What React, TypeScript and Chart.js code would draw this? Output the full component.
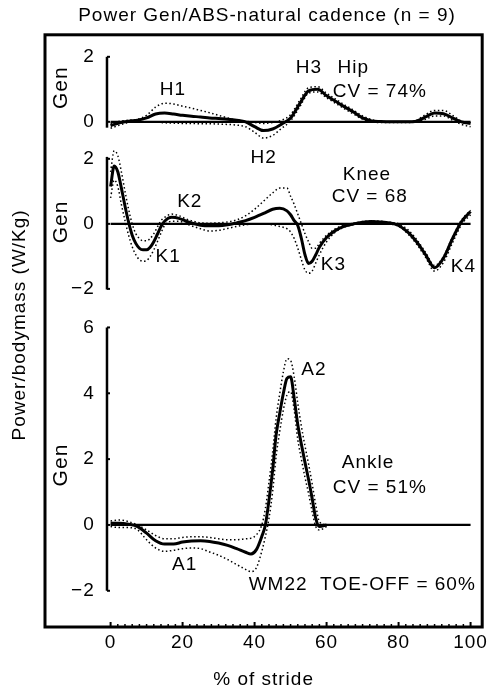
import { useEffect, useRef } from 'react';
import { Chart, registerables } from 'chart.js';

Chart.register(...registerables);

const FONT_FAMILY = '"Liberation Sans", Arial, Helvetica, sans-serif';

// ---- Hip power (W/kg) ----
const hipStride = [0, 2.5, 5, 7.5, 10, 12.5, 15, 17.5, 20, 22.5, 25, 27.5, 30, 32.5, 35, 37.5, 40, 42.5, 45, 47.5, 50, 52.5, 55, 57.5, 60, 62.5, 65, 67.5, 70, 72.5, 75, 77.5, 80, 82.5, 85, 87.5, 90, 92.5, 95, 97.5, 100];
const hipMean = [-0.12, -0.03, 0.02, 0.05, 0.12, 0.24, 0.27, 0.24, 0.2, 0.17, 0.15, 0.12, 0.1, 0.08, 0.05, 0.0, -0.15, -0.27, -0.22, -0.07, 0.12, 0.55, 0.95, 1.0, 0.8, 0.63, 0.46, 0.3, 0.12, 0.03, 0.01, 0.0, 0.0, 0.0, 0.02, 0.15, 0.27, 0.25, 0.12, 0.0, -0.05];
const hipUpper = [-0.05, 0.02, 0.05, 0.08, 0.2, 0.45, 0.57, 0.55, 0.48, 0.42, 0.35, 0.28, 0.2, 0.12, 0.05, 0.02, -0.02, -0.05, -0.02, 0.05, 0.22, 0.65, 1.05, 1.08, 0.88, 0.7, 0.52, 0.36, 0.18, 0.07, 0.02, 0.0, 0.0, 0.0, 0.05, 0.22, 0.35, 0.35, 0.2, 0.02, -0.05];
const hipLower = [-0.2, -0.1, -0.02, 0.0, 0.0, 0.0, -0.03, -0.04, -0.05, -0.05, -0.06, -0.06, -0.07, -0.08, -0.1, -0.15, -0.32, -0.5, -0.42, -0.2, 0.03, 0.45, 0.88, 0.92, 0.74, 0.57, 0.4, 0.24, 0.08, 0.0, -0.02, -0.02, -0.02, -0.02, 0.0, 0.08, 0.18, 0.18, 0.05, -0.08, -0.15];

// ---- Knee power (W/kg) ----
const kneeStride = [0, 1, 2, 3, 4, 5, 6, 7, 8, 9, 10, 11, 12, 13, 14, 15, 17, 19, 21, 23, 25, 27.5, 30, 32.5, 35, 37.5, 40, 42.5, 45, 47, 49, 50, 51, 52, 53, 54, 55, 56, 57, 58, 60, 62.5, 65, 67.5, 70, 72.5, 75, 77.5, 80, 82.5, 85, 87.5, 90, 92.5, 95, 97.5, 100];
const kneeMean = [1.15, 1.78, 1.6, 1.1, 0.55, 0.05, -0.35, -0.6, -0.75, -0.8, -0.8, -0.72, -0.55, -0.32, -0.08, 0.08, 0.2, 0.17, 0.08, 0.01, -0.04, -0.06, -0.06, -0.03, 0.03, 0.1, 0.2, 0.32, 0.45, 0.48, 0.4, 0.28, 0.1, -0.05, -0.45, -0.95, -1.22, -1.15, -0.95, -0.72, -0.42, -0.2, -0.07, 0.0, 0.05, 0.07, 0.06, 0.03, -0.05, -0.25, -0.55, -0.95, -1.35, -1.05, -0.45, 0.07, 0.38];
const kneeUpper = [1.6, 2.25, 2.1, 1.6, 1.0, 0.45, 0.0, -0.3, -0.45, -0.52, -0.52, -0.45, -0.3, -0.1, 0.1, 0.2, 0.3, 0.25, 0.15, 0.08, 0.03, 0.02, 0.03, 0.06, 0.12, 0.25, 0.45, 0.7, 0.95, 1.1, 1.1, 0.85, 0.6, 0.3, 0.0, -0.3, -0.55, -0.75, -0.75, -0.6, -0.35, -0.15, -0.03, 0.02, 0.07, 0.09, 0.08, 0.05, 0.0, -0.17, -0.48, -0.88, -1.28, -1.0, -0.4, 0.12, 0.42];
const kneeLower = [0.8, 1.35, 1.15, 0.6, 0.1, -0.35, -0.7, -0.95, -1.1, -1.15, -1.13, -1.0, -0.8, -0.55, -0.28, -0.05, 0.08, 0.08, 0.0, -0.08, -0.15, -0.22, -0.2, -0.14, -0.08, -0.03, 0.0, 0.0, -0.03, -0.08, -0.15, -0.25, -0.45, -0.75, -1.1, -1.42, -1.52, -1.45, -1.2, -0.95, -0.55, -0.25, -0.1, -0.03, 0.02, 0.04, 0.03, 0.0, -0.07, -0.3, -0.62, -1.03, -1.45, -1.18, -0.58, -0.02, 0.28];

// ---- Ankle power (W/kg) ----
const ankleStride = [0, 2.5, 5, 7.5, 10, 12.5, 15, 17.5, 20, 22.5, 25, 27.5, 30, 32.5, 35, 37.5, 39, 40.5, 42, 43, 44, 45, 46, 47, 48, 49, 50, 51, 52, 53, 54, 55, 56, 57, 58, 60];
const ankleMean = [0.05, 0.05, 0.02, -0.05, -0.25, -0.48, -0.58, -0.58, -0.52, -0.49, -0.48, -0.5, -0.55, -0.62, -0.72, -0.83, -0.88, -0.75, -0.35, 0.0, 0.75, 1.65, 2.75, 3.4, 4.0, 4.45, 4.5, 3.85, 3.05, 2.45, 1.9, 1.38, 0.8, 0.2, -0.05, 0.0];
const ankleUpper = [0.12, 0.15, 0.1, 0.0, -0.15, -0.32, -0.42, -0.42, -0.38, -0.36, -0.36, -0.38, -0.42, -0.45, -0.45, -0.42, -0.4, -0.3, 0.0, 0.5, 1.3, 2.2, 3.25, 4.0, 4.65, 5.05, 5.0, 4.5, 3.7, 3.0, 2.4, 1.85, 1.25, 0.6, 0.1, 0.0];
const ankleLower = [-0.05, -0.08, -0.08, -0.15, -0.45, -0.7, -0.8, -0.77, -0.72, -0.7, -0.72, -0.82, -0.92, -1.05, -1.2, -1.35, -1.42, -1.3, -0.8, -0.35, 0.2, 1.0, 2.1, 2.85, 3.5, 3.95, 4.05, 3.5, 2.6, 2.0, 1.45, 0.95, 0.4, -0.05, -0.15, -0.05];

// ---- zero reference lines ----
const zeroStride = [0, 100];
const zeroPower = [0, 0];

// ---- tick labels ----
const strideTicks = [0, 20, 40, 60, 80, 100];
const hipTicks = [0, 2];
const kneeTicks = [-2, 0, 2];
const ankleTicks = [-2, 0, 2, 4, 6];

// ---- text annotations (stride %, power on the named axis) ----
const notes = [
  { text: 'H1', x: 17.3, y: 0.98, axis: 'yHip' },
  { text: 'H3', x: 55.1, y: 1.66, axis: 'yHip' },
  { text: 'Hip', x: 67.4, y: 1.66, axis: 'yHip' },
  { text: 'CV = 74%', x: 74.8, y: 0.92, axis: 'yHip' },
  { text: 'H2', x: 42.5, y: -1.11, axis: 'yHip' },
  { text: 'Knee', x: 71.2, y: 1.51, axis: 'yKnee' },
  { text: 'CV = 68', x: 72, y: 0.83, axis: 'yKnee' },
  { text: 'K2', x: 22, y: 0.68, axis: 'yKnee' },
  { text: 'K1', x: 16, y: -1.02, axis: 'yKnee' },
  { text: 'K3', x: 61.9, y: -1.26, axis: 'yKnee' },
  { text: 'K4', x: 98, y: -1.32, axis: 'yKnee' },
  { text: 'A2', x: 56.5, y: 4.71, axis: 'yAnkle' },
  { text: 'Ankle', x: 71.5, y: 1.88, axis: 'yAnkle' },
  { text: 'CV = 51%', x: 74.8, y: 1.12, axis: 'yAnkle' },
  { text: 'A1', x: 20.6, y: -1.22, axis: 'yAnkle' },
  { text: 'WM22  TOE-OFF = 60%', x: 69.9, y: -1.82, axis: 'yAnkle' },
];

const panels = [
  { axis: 'yHip', top: 2, bottom: -0.18, ticks: hipTicks, genY: 1.05 },
  { axis: 'yKnee', top: 2.06, bottom: -2.02, ticks: kneeTicks, genY: 0.06 },
  { axis: 'yAnkle', top: 6, bottom: -2, ticks: ankleTicks, genY: 1.82 },
];

const pts = (xs: number[], ys: number[]) => xs.map((x, i) => ({ x, y: ys[i] }));

const series = (xs: number[], ys: number[], axis: string, kind: 'mean' | 'band' | 'zero') => ({
  data: pts(xs, ys),
  yAxisID: axis,
  borderColor: '#000',
  borderWidth: kind === 'mean' ? 3 : kind === 'zero' ? 2.2 : 1.5,
  borderDash: kind === 'band' ? [1.5, 2.5] : [],
  pointRadius: 0,
  fill: false,
  cubicInterpolationMode: 'monotone' as const,
});

const fontOf = (size: number) => ({ family: FONT_FAMILY, size, lineHeight: 1.2 });

const spacing = (chart: any) => {
  chart.ctx.letterSpacing = '1px';
};

const decorPlugin = {
  id: 'decor',
  beforeUpdate: spacing,
  beforeLayout: spacing,
  beforeDraw: spacing,
  afterDraw(chart: any) {
    const { ctx, chartArea: ca, scales } = chart;
    const xs = scales.x;
    ctx.save();
    ctx.letterSpacing = '1px';
    ctx.strokeStyle = '#000';
    ctx.fillStyle = '#000';
    // frame
    ctx.lineWidth = 3;
    ctx.strokeRect(ca.left, ca.top, ca.right - ca.left, ca.bottom - ca.top);
    // inward x ticks along bottom
    for (let v = 0; v <= 100; v += 2) {
      const px = xs.getPixelForValue(v);
      const major = v % 20 === 0;
      ctx.lineWidth = major ? 2 : 1.5;
      ctx.beginPath();
      ctx.moveTo(px, ca.bottom);
      ctx.lineTo(px, ca.bottom - (major ? 5 : 3));
      ctx.stroke();
    }
    // panel spines
    const sx = xs.getPixelForValue(-1);
    for (const p of panels) {
      const ys = scales[p.axis];
      ctx.lineWidth = 2.5;
      ctx.beginPath();
      ctx.moveTo(sx, ys.getPixelForValue(p.top));
      ctx.lineTo(sx, ys.getPixelForValue(p.bottom));
      ctx.stroke();
      ctx.lineWidth = 2;
      for (const t of p.ticks) {
        const py = ys.getPixelForValue(t);
        ctx.beginPath();
        ctx.moveTo(sx, py);
        ctx.lineTo(sx + 3, py);
        ctx.stroke();
      }
      // "Gen" label
      ctx.save();
      ctx.font = `21px ${FONT_FAMILY}`;
      ctx.textAlign = 'center';
      ctx.textBaseline = 'middle';
      ctx.translate(xs.getPixelForValue(-13.6), ys.getPixelForValue(p.genY));
      ctx.rotate(-Math.PI / 2);
      ctx.fillText('Gen', 0, 0);
      ctx.restore();
    }
    // notes
    ctx.font = `19px ${FONT_FAMILY}`;
    ctx.textAlign = 'center';
    ctx.textBaseline = 'middle';
    for (const n of notes) {
      ctx.fillText(n.text, xs.getPixelForValue(n.x), scales[n.axis].getPixelForValue(n.y));
    }
    // overall y title
    ctx.save();
    ctx.translate(ca.left - 25, (ca.top + ca.bottom) / 2 - 6);
    ctx.rotate(-Math.PI / 2);
    ctx.fillText('Power/bodymass (W/Kg)', 0, 0);
    ctx.restore();
    ctx.restore();
  },
};

const yTickLabel = (v: any) => (Number(v) < 0 ? '\u2212' + Math.abs(Number(v)) : String(v));

const yAxis = (min: number, max: number, ticks: number[]) => ({
  type: 'linear' as const,
  axis: 'y' as const,
  position: { x: -4.4 },
  min,
  max,
  afterBuildTicks: (s: any) => {
    s.ticks = ticks.map((value) => ({ value }));
  },
  grid: { display: false, drawTicks: false, tickLength: 0 },
  border: { display: false },
  ticks: { font: fontOf(19), color: '#000', padding: 0, callback: yTickLabel, autoSkip: false },
});

export default function App() {
  const ref = useRef<HTMLCanvasElement | null>(null);
  useEffect(() => {
    if (!ref.current) return;
    const chart = new Chart(ref.current, {
      type: 'line',
      data: {
        datasets: [
          series(hipStride, hipMean, 'yHip', 'mean'),
          series(kneeStride, kneeMean, 'yKnee', 'mean'),
          series(ankleStride, ankleMean, 'yAnkle', 'mean'),
          series(hipStride, hipUpper, 'yHip', 'band'),
          series(hipStride, hipLower, 'yHip', 'band'),
          series(kneeStride, kneeUpper, 'yKnee', 'band'),
          series(kneeStride, kneeLower, 'yKnee', 'band'),
          series(ankleStride, ankleUpper, 'yAnkle', 'band'),
          series(ankleStride, ankleLower, 'yAnkle', 'band'),
          series(zeroStride, zeroPower, 'yHip', 'zero'),
          series(zeroStride, zeroPower, 'yKnee', 'zero'),
          series(zeroStride, zeroPower, 'yAnkle', 'zero'),
        ],
      },
      options: {
        animation: false,
        responsive: false,
        devicePixelRatio: 1,
        layout: { padding: { left: 45, right: 3, top: 0, bottom: 0 } },
        plugins: {
          legend: { display: false },
          tooltip: { enabled: false },
          title: {
            display: true,
            text: 'Power Gen/ABS-natural cadence (n = 9)',
            color: '#000',
            font: { ...fontOf(19), weight: 'normal' as const },
            padding: { top: 4, bottom: 8 },
          },
        },
        scales: {
          x: {
            type: 'linear',
            min: -18.22,
            max: 103.23,
            afterBuildTicks: (s: any) => {
              s.ticks = strideTicks.map((value) => ({ value }));
            },
            afterFit: (s: any) => {
              s.height = 65;
            },
            grid: { display: false, drawTicks: false, tickLength: 0 },
            border: { display: false },
            ticks: { font: fontOf(19), color: '#000', padding: 4, maxRotation: 0, autoSkip: false },
            title: { display: true, text: '% of stride', color: '#000', font: fontOf(19), padding: { top: 0, bottom: 1 } },
          },
          yHip: yAxis(-15.54, 2.677, hipTicks),
          yKnee: yAxis(-12.4, 5.815, kneeTicks),
          yAnkle: yAxis(-3.1, 14.89, ankleTicks),
        } as any,
      },
      plugins: [decorPlugin],
    });
    return () => chart.destroy();
  }, []);
  return (
    <div style={{ position: 'absolute', left: 0, top: 0, width: 492, height: 692, background: '#fff' }}>
      <canvas ref={ref} width={492} height={692} style={{ display: 'block' }} />
    </div>
  );
}
